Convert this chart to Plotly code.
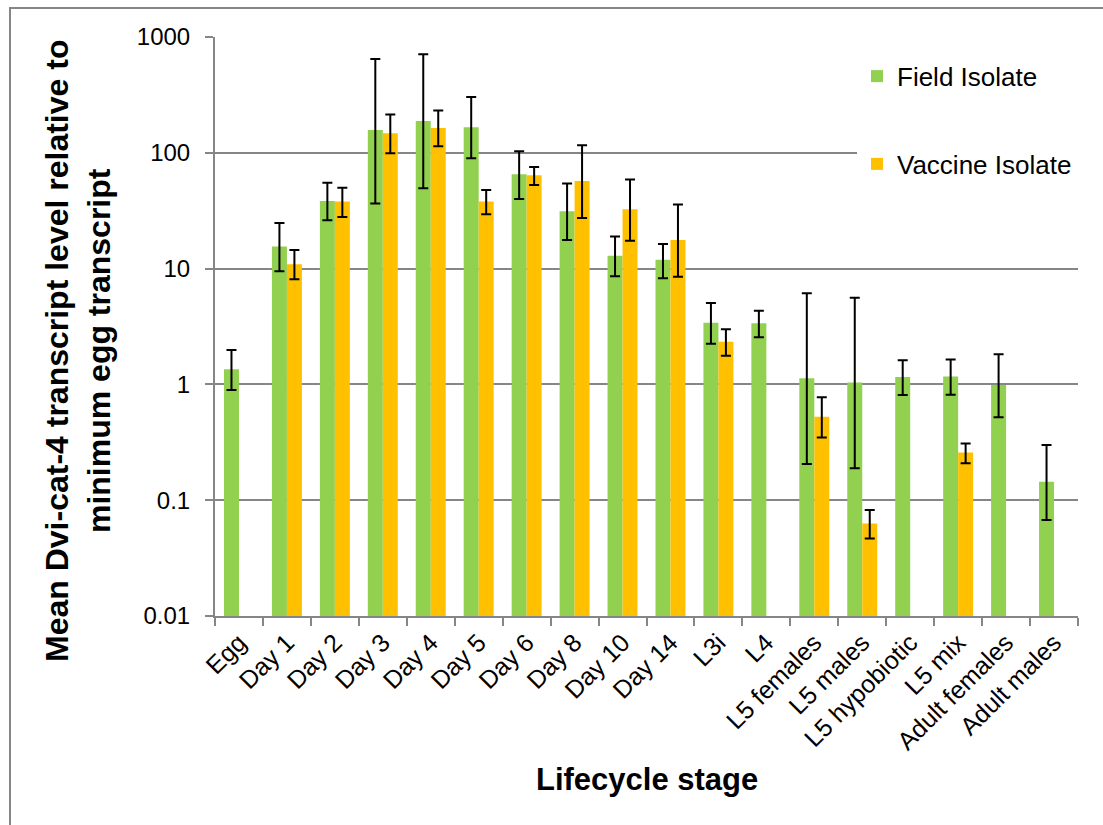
import plotly.graph_objects as go

categories = ["Egg", "Day 1", "Day 2", "Day 3", "Day 4", "Day 5", "Day 6", "Day 8",
              "Day 10", "Day 14", "L3i", "L4", "L5 females", "L5 males",
              "L5 hypobiotic", "L5 mix", "Adult females", "Adult males"]

field_mean = [1.35, 15.5, 38.4, 157, 188, 166, 65.3, 31.3, 12.9, 11.9, 3.41, 3.37,
              1.13, 1.04, 1.16, 1.17, 0.99, 0.144]
field_upper = [1.98, 24.8, 55, 647, 711, 303, 103, 54.2, 18.9, 16.3, 5.04, 4.33,
               6.12, 5.6, 1.62, 1.64, 1.82, 0.299]
field_lower = [0.893, 9.5, 26.1, 36.4, 49.5, 89.8, 40, 17.7, 8.58, 8.24, 2.24, 2.55,
               0.205, 0.189, 0.81, 0.813, 0.521, 0.0676]

vaccine_mean = [None, 10.9, 37.9, 147.6, 164, 37.9, 64, 57.2, 32.5, 17.7, 2.33, None,
                0.525, 0.063, None, 0.258, None, None]
vaccine_upper = [None, 14.5, 49.8, 214, 231.6, 47.8, 75.5, 116.4, 58.7, 35.7, 3.0, None,
                 0.776, 0.0824, None, 0.309, None, None]
vaccine_lower = [None, 8.08, 27.9, 99, 114, 29.5, 52.8, 27.4, 17.4, 8.5, 1.77, None,
                 0.348, 0.0467, None, 0.209, None, None]

y_tickvals = [0.01, 0.1, 1, 10, 100, 1000]
y_ticktext = ["0.01", "0.1", "1", "10", "100", "1000"]


def plus(m, u):
    return [(b - a) if a is not None else 0 for a, b in zip(m, u)]


def minus(m, l):
    return [(a - b) if a is not None else 0 for a, b in zip(m, l)]


FONT = "Liberation Sans, Arial, sans-serif"
W, H = 1103, 825
L, R, T, B = 215, 25, 37, 209
pw, ph = W - L - R, H - T - B

fig = go.Figure()
fig.add_trace(go.Bar(
    name="Field Isolate", x=categories, y=field_mean,
    marker=dict(color="#92D050", line=dict(width=0)),
    error_y=dict(type="data", symmetric=False,
                 array=plus(field_mean, field_upper),
                 arrayminus=minus(field_mean, field_lower),
                 color="black", thickness=2, width=5),
    legendgroup="a",
))
fig.add_trace(go.Bar(
    name="Vaccine Isolate", x=categories, y=vaccine_mean,
    marker=dict(color="#FFC000", line=dict(width=0)),
    error_y=dict(type="data", symmetric=False,
                 array=plus(vaccine_mean, vaccine_upper),
                 arrayminus=minus(vaccine_mean, vaccine_lower),
                 color="black", thickness=2, width=5),
    legendgroup="b",
))

fig.update_layout(
    width=W, height=H,
    margin=dict(l=L, r=R, t=T, b=B),
    paper_bgcolor="white", plot_bgcolor="white",
    barmode="group", bargap=0.375, bargroupgap=0,
    font=dict(family=FONT, color="black"),
    showlegend=True,
    legend=dict(
        x=(857 - L) / pw, xanchor="left",
        y=1 + (T - 28) / ph, yanchor="top",
        bgcolor="white", borderwidth=0,
        font=dict(size=26, family=FONT, color="black"),
        traceorder="grouped", tracegroupgap=51,
        title=dict(text=" ", font=dict(size=19)),
        maxheight=500,
    ),
    xaxis=dict(
        type="category",
        showline=True, linecolor="#868686", linewidth=2,
        ticks="outside", tickson="boundaries", ticklen=8, tickcolor="#868686", tickwidth=2,
        tickangle=-45, tickfont=dict(size=25, family=FONT, color="black"),
        showgrid=False,
    ),
    yaxis=dict(
        type="log", range=[-2, 3],
        tickvals=y_tickvals, ticktext=y_ticktext,
        showline=True, linecolor="#868686", linewidth=2,
        ticks="outside", ticklen=8, tickcolor="#868686", tickwidth=2,
        showgrid=True, gridcolor="#868686", gridwidth=2,
        tickfont=dict(size=24, family=FONT, color="black"),
        ticklabelstandoff=10,
    ),
    annotations=[
        dict(text="Mean Dvi-cat-4 transcript level relative to<br>minimum egg transcript",
             xref="paper", yref="paper",
             x=(78 - L) / pw, y=(H - B - 351) / ph,
             xanchor="center", yanchor="middle", textangle=-90, showarrow=False,
             font=dict(size=32, family=FONT, color="black", weight="bold")),
        dict(text="Lifecycle stage", xref="paper", yref="paper",
             x=0.5, y=(H - B - 779) / ph, xanchor="center", yanchor="middle",
             showarrow=False,
             font=dict(size=31, family=FONT, color="black", weight="bold")),
    ],
    shapes=[
        dict(type="rect", xref="paper", yref="paper",
             x0=(10 - L) / pw, x1=(1120 - L) / pw,
             y0=(H - B - 840) / ph, y1=(H - B - 8) / ph,
             line=dict(color="#868686", width=2), fillcolor="rgba(0,0,0,0)", layer="below"),
        # white panel behind the legend, hiding the gridlines as in the reference
        dict(type="rect", xref="paper", yref="paper",
             x0=(865 - L) / pw, x1=(1085 - L) / pw,
             y0=(H - B - 200) / ph, y1=(H - B - 28) / ph,
             line=dict(width=0), fillcolor="white", layer="above"),
    ],
)

fig.write_html("out.html")
